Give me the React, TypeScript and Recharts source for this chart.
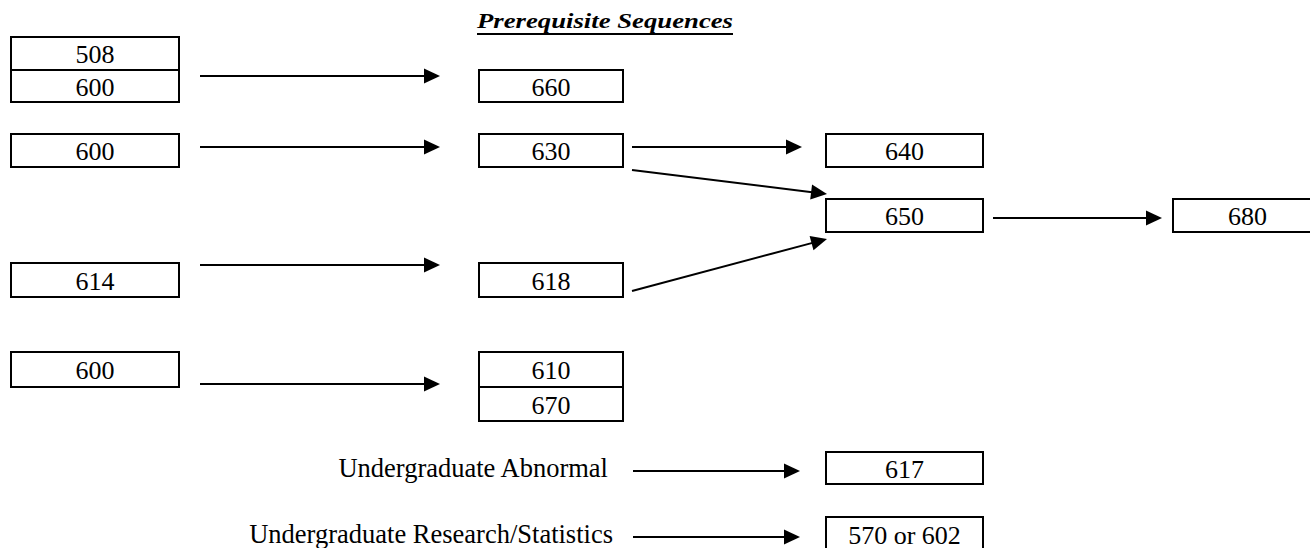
import React from 'react';
import { ScatterChart, XAxis, YAxis, Scatter, ReferenceArea, ReferenceLine } from 'recharts';

const W = 1310;
const H = 548;
const FONT = '"Liberation Serif", "Times New Roman", serif';

const title = 'Prerequisite Sequences';

// courses in the diagram: label, grid column and grid slot (row)
const courseLabels = ['508', '600', '660', '600', '630', '640', '650', '680', '614', '618', '600', '610', '670', '617', '570 or 602'];
const courseCols = [0, 0, 1, 0, 1, 2, 2, 3, 0, 1, 0, 1, 1, 2, 2];
const courseSlots = [0, 1, 1, 2, 2, 2, 3, 3, 4, 4, 5, 5, 6, 7, 8];

// prerequisite arrows: [from course, to course]
const links = [
  [1, 2],
  [3, 4],
  [4, 5],
  [4, 6],
  [6, 7],
  [8, 9],
  [9, 6],
  [10, 11],
];

// undergraduate requirements pointing at a course
const sourceTexts = ['Undergraduate Abnormal', 'Undergraduate Research/Statistics'];
const sourceTargets = [13, 14];

// ---- layout (chart units) ----
const colLeft = [11, 479, 826, 1173];
const colRight = [179, 623, 983, 1322];
const slotTop = [37, 70, 134, 199, 263, 352, 387, 452, 517];
const slotBottom = [70, 102, 167, 232, 297, 387, 421, 484, 551];
const gapStart = [200, 632, 993];
const gapEnd = [440, 802, 1162];
// arrow lanes for each link (start y, end y)
const linkStartY = [76, 147, 147, 170, 218, 265, 291, 384];
const linkEndY = [76, 147, 147, 194, 218, 265, 239, 384];
const sourceRight = [608, 613];
const sourceBaseline = [477, 543];
const sourceArrowStart = 633;
const sourceArrowEnd = 800;

const courses = courseLabels.map((label, i) => {
  const c = courseCols[i];
  const s = courseSlots[i];
  return {
    label,
    x1: colLeft[c],
    x2: colRight[c],
    y1: slotTop[s],
    y2: slotBottom[s],
    x: (colLeft[c] + colRight[c]) / 2,
    y: (slotTop[s] + slotBottom[s]) / 2,
  };
});

const arrows = links.map(([from, to], i) => {
  const fc = courseCols[from];
  const tc = courseCols[to];
  const diagonal = linkStartY[i] !== linkEndY[i];
  return {
    key: `l-${i}`,
    x1: gapStart[fc],
    y1: linkStartY[i],
    x2: diagonal ? colLeft[tc] + 1 : gapEnd[fc],
    y2: linkEndY[i],
  };
});

const sourceArrows = sourceTexts.map((t, i) => ({
  key: `s-${i}`,
  x1: sourceArrowStart,
  x2: sourceArrowEnd,
  y1: sourceBaseline[i] - 6,
  y2: sourceBaseline[i] - 6,
  target: sourceTargets[i],
}));

const sourcePoints = sourceTexts.map((label, i) => ({ x: sourceRight[i], y: sourceBaseline[i], label }));
const titlePoints = [{ x: 605, y: 28, label: title }];

const Arrow = (p: any) => {
  const { x1, y1, x2, y2 } = p;
  const a = Math.atan2(y2 - y1, x2 - x1);
  const len = 16;
  const hw = 7.5;
  const cos = Math.cos(a);
  const sin = Math.sin(a);
  const bx = x2 - len * cos;
  const by = y2 - len * sin;
  const pts = `${x2},${y2} ${bx - hw * sin},${by + hw * cos} ${bx + hw * sin},${by - hw * cos}`;
  return (
    <g>
      <line x1={x1} y1={y1} x2={bx + cos} y2={by + sin} stroke="#000" strokeWidth={2} />
      <polygon points={pts} fill="#000" />
    </g>
  );
};

const CourseLabel = (p: any) => (
  <text x={p.cx} y={p.cy + 9.5} textAnchor="middle" fontFamily={FONT} fontSize={26} fill="#000">
    {p.payload.label}
  </text>
);

const SourceLabel = (p: any) => (
  <text x={p.cx} y={p.cy} textAnchor="end" fontFamily={FONT} fontSize={26.5} fill="#000">
    {p.payload.label}
  </text>
);

const TitleLabel = (p: any) => (
  <g>
    <text
      x={p.cx}
      y={p.cy}
      textAnchor="middle"
      fontFamily={FONT}
      fontSize={22}
      fontWeight="bold"
      fontStyle="italic"
      textLength={256}
      lengthAdjust="spacingAndGlyphs"
      fill="#000"
    >
      {p.payload.label}
    </text>
    <line x1={p.cx - 128} x2={p.cx + 128} y1={p.cy + 6} y2={p.cy + 6} stroke="#000" strokeWidth={2} />
  </g>
);

export default function App() {
  return (
    <div style={{ position: 'absolute', left: 0, top: 0, width: W, height: H, background: '#fff' }}>
      <ScatterChart width={W} height={H} margin={{ top: 0, right: 0, bottom: 0, left: 0 }}>
        <XAxis type="number" dataKey="x" domain={[0, W]} allowDataOverflow hide />
        <YAxis type="number" dataKey="y" domain={[0, H]} allowDataOverflow reversed hide />
        {courses.map((c, i) => (
          <ReferenceArea
            key={`c-${i}`}
            x1={c.x1}
            x2={c.x2}
            y1={c.y1}
            y2={c.y2}
            ifOverflow="visible"
            fill="#fff"
            fillOpacity={1}
            stroke="#000"
            strokeWidth={2}
          />
        ))}
        {arrows.concat(sourceArrows).map((a) => (
          <ReferenceLine
            key={a.key}
            segment={[
              { x: a.x1, y: a.y1 },
              { x: a.x2, y: a.y2 },
            ]}
            ifOverflow="visible"
            shape={Arrow}
          />
        ))}
        <Scatter data={courses} shape={CourseLabel} isAnimationActive={false} />
        <Scatter data={sourcePoints} shape={SourceLabel} isAnimationActive={false} />
        <Scatter data={titlePoints} shape={TitleLabel} isAnimationActive={false} />
      </ScatterChart>
    </div>
  );
}
